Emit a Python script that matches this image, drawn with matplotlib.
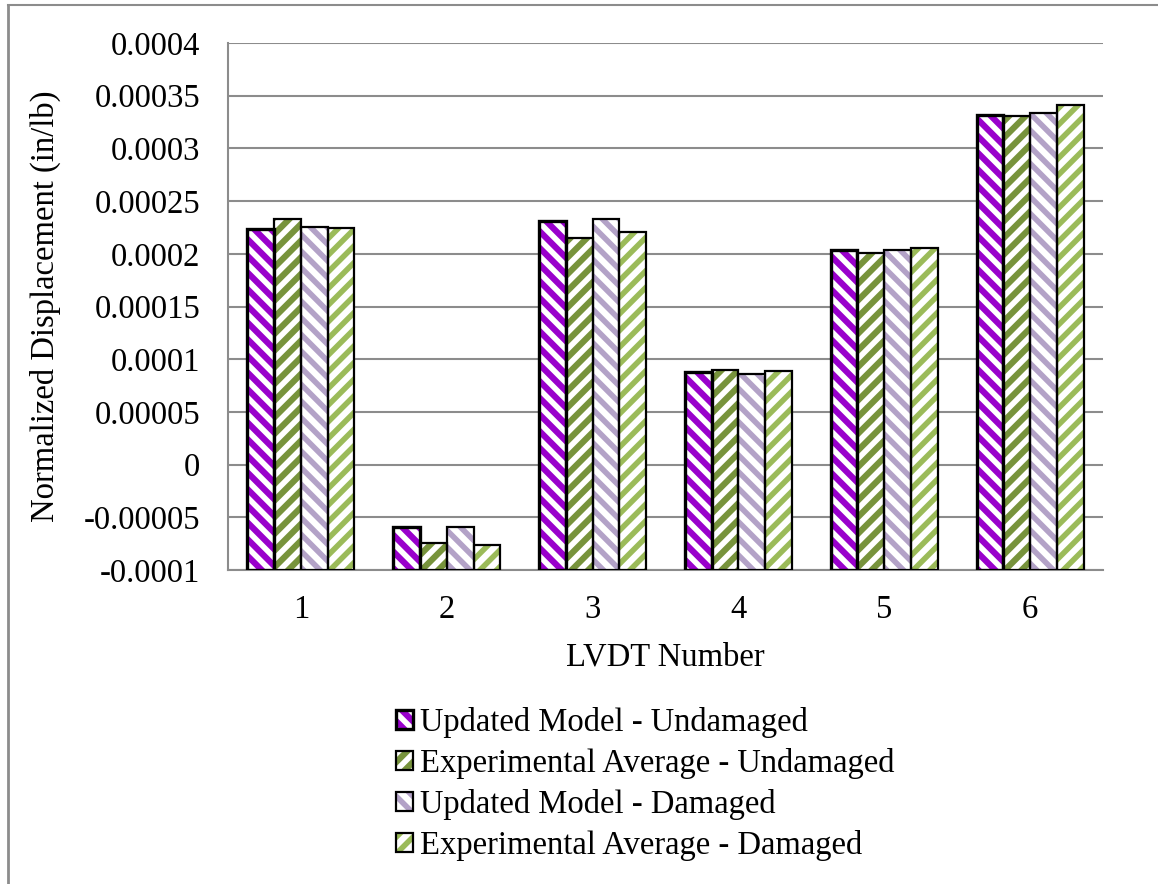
import matplotlib
matplotlib.use("Agg")
import matplotlib.pyplot as plt
from matplotlib.lines import Line2D
from matplotlib.patches import Patch
import numpy as np

lvdt = ["1", "2", "3", "4", "5", "6"]
upd_undamaged = [0.0002237, -0.0000595, 0.0002313, 0.0000877, 0.0002038, 0.0003317]
exp_undamaged = [0.0002332, -0.0000747, 0.0002150, 0.0000896, 0.0002010, 0.0003307]
upd_damaged = [0.0002256, -0.0000595, 0.0002330, 0.0000858, 0.0002038, 0.0003336]
exp_damaged = [0.0002247, -0.0000766, 0.0002210, 0.0000886, 0.0002057, 0.0003412]
series_names = ["Updated Model - Undamaged", "Experimental Average - Undamaged",
                "Updated Model - Damaged", "Experimental Average - Damaged"]
yticks = [-0.0001, -0.00005, 0, 0.00005, 0.0001, 0.00015, 0.0002, 0.00025,
          0.0003, 0.00035, 0.0004]
ytick_labels = ["-0.0001", "-0.00005", "0", "0.00005", "0.0001", "0.00015",
                "0.0002", "0.00025", "0.0003", "0.00035", "0.0004"]

# (face, hatch colour, hatch, outline width)
styles = [("#9900CC", "white", "\\\\", 2.4),
          ("#77933C", "white", "//", 1.6),
          ("white", "#B3A2C7", "\\\\", 1.6),
          ("white", "#9BBB59", "//", 1.6)]

plt.rcParams["font.family"] = ["Liberation Serif", "DejaVu Serif"]
plt.rcParams["hatch.linewidth"] = 4.0
fs = 23.5

fig = plt.figure(figsize=(11.58, 8.84), dpi=100)
ax = fig.add_axes([228 / 1158, 1 - 570 / 884, 875 / 1158, 527 / 884])

x = np.arange(len(lvdt))
width = 0.1835
base = -0.0001
data = [upd_undamaged, exp_undamaged, upd_damaged, exp_damaged]
handles = []
for i, (vals, (face, hc, hatch, lw)) in enumerate(zip(data, styles)):
    pos = x + (i - 1.5) * width
    heights = np.array(vals) - base
    ax.bar(pos, heights, width, bottom=base, facecolor=face, edgecolor=hc,
           hatch=hatch, linewidth=0, zorder=3)
    ax.bar(pos, heights, width, bottom=base, fill=False, edgecolor="black",
           linewidth=lw, zorder=4)
    handles.append((Patch(facecolor=face, edgecolor=hc, hatch=hatch, linewidth=0),
                    Patch(fill=False, edgecolor="black", linewidth=lw)))

ax.set_xlim(-0.5, len(lvdt) - 0.5)
ax.set_ylim(-0.0001, 0.0004)
ax.set_yticks(yticks)
ax.set_yticklabels(ytick_labels)
ax.set_xticks(x)
ax.set_xticklabels(lvdt)
ax.tick_params(axis="both", length=0, labelsize=fs)
ax.tick_params(axis="y", pad=20)
ax.tick_params(axis="x", pad=18)
ax.grid(axis="y", color="#8c8c8c", linewidth=1.5, zorder=0)
for s in ["top", "right"]:
    ax.spines[s].set_visible(False)
for s in ["left", "bottom"]:
    ax.spines[s].set_color("#8c8c8c")
    ax.spines[s].set_linewidth(1.5)
ax.set_xlabel("LVDT Number", fontsize=fs, labelpad=12)
ax.set_ylabel("Normalized Displacement (in/lb)", fontsize=fs, labelpad=16)

fig.legend(handles, series_names, loc="center left",
           bbox_to_anchor=(396 / 1158, 1 - 784 / 884), frameon=False,
           fontsize=fs, handlelength=0.52, handleheight=0.52, handletextpad=0.2,
           labelspacing=0.3, borderpad=0, borderaxespad=0)

# outer chart border
fig.add_artist(Line2D([8 / 1158, 8 / 1158], [0, 1 - 5 / 884], color="#8c8c8c",
                      linewidth=2, transform=fig.transFigure))
fig.add_artist(Line2D([8 / 1158, 1], [1 - 5 / 884, 1 - 5 / 884], color="#8c8c8c",
                      linewidth=1.5, transform=fig.transFigure))

fig.savefig("out.png", dpi=100)
